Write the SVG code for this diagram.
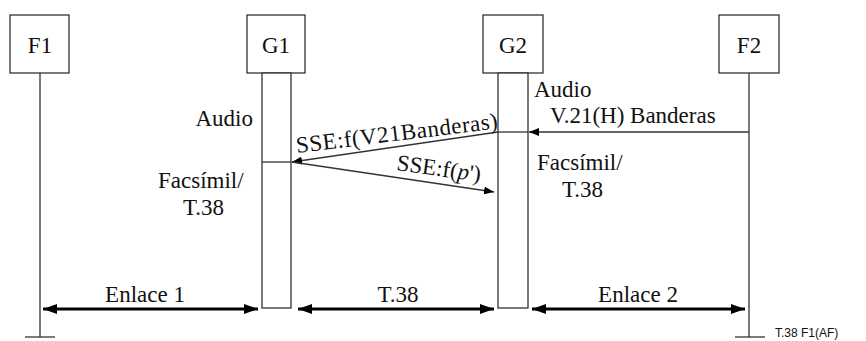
<svg xmlns="http://www.w3.org/2000/svg" width="866" height="341" viewBox="0 0 866 341">
<style>
.box{fill:#fff;stroke:#333;stroke-width:1.3}
.ln{stroke:#333;stroke-width:1.3;fill:none}
.thick{stroke:#000;stroke-width:3;fill:none}
text{font-family:"Liberation Serif","Times New Roman",serif;font-size:23px;fill:#111}
.small{font-family:"Liberation Sans",Arial,sans-serif;font-size:12px}
</style>
<defs>
<marker id="ah" viewBox="0 0 10 8" refX="10" refY="4" markerWidth="10" markerHeight="8" markerUnits="userSpaceOnUse" orient="auto-start-reverse">
<path d="M0,0 L10,4 L0,8 z" fill="#000"/>
</marker>
<marker id="ahb" viewBox="0 0 14 10" refX="14" refY="5" markerWidth="14" markerHeight="10" markerUnits="userSpaceOnUse" orient="auto-start-reverse">
<path d="M0,0 L14,5 L0,10 z" fill="#000"/>
</marker>
</defs>
<rect width="866" height="341" fill="#fff"/>
<g id="F1">
<rect class="box" x="10" y="15" width="59" height="58"/>
<text x="40" y="53" text-anchor="middle">F1</text>
<line class="ln" x1="40" y1="73" x2="40" y2="337"/>
<line class="ln" x1="25" y1="337" x2="55" y2="337"/>
</g>
<g id="G1">
<rect class="box" x="247" y="15" width="58" height="58"/>
<text x="276" y="53" text-anchor="middle">G1</text>
<rect class="box" x="262" y="73" width="29" height="235"/>
<line class="ln" x1="262" y1="162" x2="291" y2="162"/>
</g>
<g id="G2">
<rect class="box" x="483" y="15" width="60" height="58"/>
<text x="513" y="53" text-anchor="middle">G2</text>
<rect class="box" x="498" y="73" width="30" height="235"/>
<line class="ln" x1="498" y1="132" x2="528" y2="132"/>
</g>
<g id="F2">
<rect class="box" x="719" y="15" width="60" height="58"/>
<text x="749" y="53" text-anchor="middle">F2</text>
<line class="ln" x1="749" y1="73" x2="749" y2="337"/>
<line class="ln" x1="735" y1="337" x2="765" y2="337"/>
</g>
<g id="connectors">
<line class="ln" x1="749" y1="132" x2="529" y2="132" marker-end="url(#ah)"/>
<line class="ln" x1="498" y1="132" x2="292" y2="162" marker-end="url(#ah)"/>
<line class="ln" x1="292" y1="162" x2="494" y2="192" marker-end="url(#ah)"/>
<line class="thick" x1="43" y1="309" x2="258" y2="309" marker-start="url(#ahb)" marker-end="url(#ahb)"/>
<line class="thick" x1="298" y1="309" x2="494" y2="309" marker-start="url(#ahb)" marker-end="url(#ahb)"/>
<line class="thick" x1="532" y1="309" x2="745" y2="309" marker-start="url(#ahb)" marker-end="url(#ahb)"/>
</g>
<g id="labels">
<text x="253" y="126" text-anchor="end">Audio</text>
<text x="158" y="188">Facsímil/</text>
<text x="183" y="215">T.38</text>
<text x="534" y="97">Audio</text>
<text x="550" y="123">V.21(H) Banderas</text>
<text x="537" y="170">Facsímil/</text>
<text x="562" y="197">T.38</text>
<text transform="translate(297,153) rotate(-7)" textLength="203">SSE:f(V21Banderas)</text>
<text transform="translate(396,170) rotate(8)">SSE:f(<tspan font-style="italic">p</tspan>')</text>
<text x="145" y="302" text-anchor="middle">Enlace 1</text>
<text x="398" y="302" text-anchor="middle">T.38</text>
<text x="638" y="302" text-anchor="middle">Enlace 2</text>
<text class="small" x="775" y="337">T.38  F1(AF)</text>
</g>
</svg>
